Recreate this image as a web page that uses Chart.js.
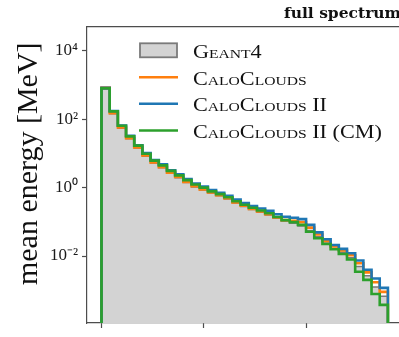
<!DOCTYPE html>
<html><head><meta charset="utf-8">
<script src="https://cdn.jsdelivr.net/npm/chart.js@4/dist/chart.umd.min.js"></script>
<style>
html,body{margin:0;padding:0;background:#fff;overflow:hidden;}
#wrap{width:399px;height:337px;overflow:hidden;position:relative;}
canvas{display:block;}
</style></head><body>
<div id="wrap"><canvas id="c" width="405" height="360"></canvas></div>
<script>
// ---- data ----
const binStart = 0;
const binWidth = 0.08;
const xTicks = [0, 1, 2];
const yTicks = [1e-2, 1, 1e2, 1e4];
const yTickLabels = ['10\u207B\u00B2', '10\u2070', '10\u00B2', '10\u2074'];
const seriesNames = ['Geant4', 'CaloClouds', 'CaloClouds II', 'CaloClouds II (CM)'];
const titleText = 'full spectrum';
const yLabel = 'mean energy [MeV]';

const geant4 = [759, 145, 55.0, 26.9, 14.5, 8.32, 5.25, 3.80, 2.63, 1.95, 1.41, 1.05, 0.851, 0.692, 0.575, 0.468, 0.355, 0.282, 0.229, 0.191, 0.158, 0.129, 0.105, 0.0912, 0.0759, 0.0562, 0.0363, 0.0240, 0.0166, 0.0129, 0.00891, 0.00490, 0.00263, 0.00123, 0.000661];
const caloClouds = [851, 151, 57.5, 28.2, 15.1, 8.71, 5.50, 3.98, 2.75, 2.04, 1.48, 1.10, 0.891, 0.724, 0.603, 0.490, 0.372, 0.295, 0.240, 0.200, 0.166, 0.135, 0.112, 0.107, 0.0977, 0.0676, 0.0427, 0.0275, 0.0191, 0.0145, 0.0105, 0.00617, 0.00331, 0.00170, 0.000891];
const caloCloudsII = [832, 174, 66.1, 33.1, 17.4, 10.2, 6.46, 4.79, 3.24, 2.45, 1.78, 1.32, 1.07, 0.851, 0.708, 0.575, 0.447, 0.355, 0.288, 0.245, 0.209, 0.166, 0.141, 0.132, 0.120, 0.0813, 0.0490, 0.0309, 0.0209, 0.0162, 0.0120, 0.00741, 0.00398, 0.00219, 0.00117];
const caloCloudsIICM = [813, 170, 64.6, 31.6, 17.0, 9.77, 6.17, 4.47, 3.09, 2.29, 1.66, 1.23, 1.00, 0.776, 0.646, 0.525, 0.398, 0.316, 0.257, 0.214, 0.178, 0.138, 0.112, 0.0977, 0.0813, 0.0513, 0.0331, 0.0224, 0.0158, 0.0115, 0.00794, 0.00347, 0.00200, 0.000776, 0.000372];

// ---- helpers ----
const FLOOR = 1e-9;
function stepPoints(vals) {
  const pts = [{x: binStart, y: FLOOR}];
  vals.forEach((v, i) => pts.push({x: binStart + i * binWidth, y: v}));
  const end = binStart + vals.length * binWidth;
  pts.push({x: end, y: vals[vals.length - 1]});
  pts.push({x: end, y: FLOOR});
  return pts;
}

const SPINE = '#4d4d4d';
const colors = {
  g4fill: '#d3d3d3', g4edge: '#7a7a7a',
  cc: '#ff7f0e', cc2: '#1f77b4', cm: '#2ca02c'
};

const legendPlugin = {
  id: 'mplLegend',
  afterDraw(chart) {
    const ctx = chart.ctx;
    ctx.save();
    const x0 = 140, x1 = 177, tx = 193;
    const rowsY = [50.3, 77.3, 103.8, 130.5];
    ctx.fillStyle = colors.g4fill;
    ctx.strokeStyle = colors.g4edge;
    ctx.lineWidth = 1.8;
    ctx.fillRect(x0, rowsY[0] - 7, x1 - x0, 14);
    ctx.strokeRect(x0, rowsY[0] - 7, x1 - x0, 14);
    const lineCols = [colors.cc, colors.cc2, colors.cm];
    for (let i = 0; i < 3; i++) {
      ctx.beginPath();
      ctx.strokeStyle = lineCols[i];
      ctx.lineWidth = 2.6;
      ctx.moveTo(x0 - 1, rowsY[i + 1]);
      ctx.lineTo(x1 + 1, rowsY[i + 1]);
      ctx.stroke();
    }
    ctx.fillStyle = '#111';
    ctx.font = 'small-caps 18.5px "Liberation Serif"';
    ctx.textBaseline = 'alphabetic';
    ctx.textAlign = 'left';
    seriesNames.forEach((n, i) => {
      ctx.save();
      ctx.translate(tx, rowsY[i] + 7.5);
      ctx.scale(1.2, 1);
      ctx.fillText(n, 0, 0);
      ctx.restore();
    });
    ctx.restore();
  }
};

const chart = new Chart(document.getElementById('c'), {
  type: 'line',
  data: {
    datasets: [
      {label: seriesNames[0], data: stepPoints(geant4), stepped: 'before', borderColor: colors.g4edge, borderWidth: 1.5,
        backgroundColor: colors.g4fill, fill: 'start', pointRadius: 0, order: 3, borderJoinStyle: 'miter'},
      {label: seriesNames[1], data: stepPoints(caloClouds), stepped: 'before', borderColor: colors.cc, borderWidth: 2.6,
        fill: false, pointRadius: 0, order: 2, borderJoinStyle: 'miter'},
      {label: seriesNames[2], data: stepPoints(caloCloudsII), stepped: 'before', borderColor: colors.cc2, borderWidth: 2.6,
        fill: false, pointRadius: 0, order: 1, borderJoinStyle: 'miter'},
      {label: seriesNames[3], data: stepPoints(caloCloudsIICM), stepped: 'before', borderColor: colors.cm, borderWidth: 2.6,
        fill: false, pointRadius: 0, order: 0, borderJoinStyle: 'miter'}
    ]
  },
  options: {
    responsive: false,
    devicePixelRatio: 1,
    animation: false,
    layout: {padding: {left: 0, right: 4, top: 0, bottom: 0}},
    plugins: {
      legend: {display: false},
      tooltip: {enabled: false},
      title: {
        display: true, text: titleText, align: 'end', fullSize: false,
        color: '#111',
        font: {family: '"DejaVu Serif"', weight: 'bold', size: 15.5, lineHeight: '19px'},
        padding: {top: 4, bottom: 4}
      }
    },
    scales: {
      x: {
        type: 'linear', position: 'bottom', min: -0.1417, max: 2.928,
        afterBuildTicks: s => { s.ticks = xTicks.map(v => ({value: v})); },
        afterFit: s => { s.height = 37; },
        ticks: {display: false},
        grid: {drawOnChartArea: false, tickLength: 5, color: SPINE, tickWidth: 1.2},
        border: {display: true, color: SPINE, width: 1.2}
      },
      xt: {
        type: 'linear', axis: 'x', position: 'top', min: 0, max: 1,
        afterFit: s => { s.height = 0; },
        ticks: {display: false},
        grid: {drawOnChartArea: false, drawTicks: false},
        border: {display: true, color: SPINE, width: 1.2}
      },
      y: {
        type: 'logarithmic', position: 'left', min: Math.pow(10, -3.96), max: Math.pow(10, 4.70),
        afterBuildTicks: s => { s.ticks = yTicks.map(v => ({value: v})); },
        afterFit: s => { s.width = 87; },
        ticks: {
          callback: v => yTickLabels[yTicks.indexOf(v)],
          color: '#1a1a1a', padding: 4,
          font: {family: '"Liberation Serif"', size: 17}
        },
        grid: {drawOnChartArea: false, tickLength: 5, color: SPINE, tickWidth: 1.2},
        border: {display: true, color: SPINE, width: 1.2},
        title: {
          display: true, text: '\u00a0\u00a0\u00a0' + yLabel, color: '#111',
          font: {family: '"Liberation Serif"', size: 30, lineHeight: 1.2},
          padding: {top: 11, bottom: 0}
        }
      }
    }
  },
  plugins: [legendPlugin]
});
</script>
</body></html>
